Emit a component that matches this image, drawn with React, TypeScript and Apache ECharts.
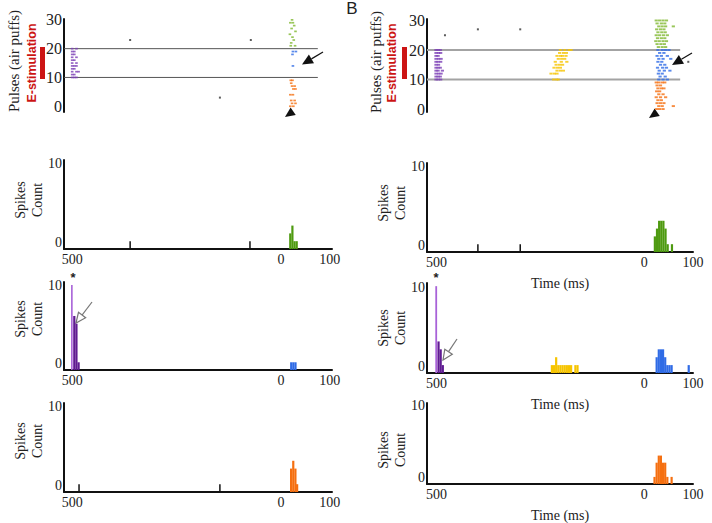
import React, { useEffect, useRef } from "react";
import * as echarts from "echarts";

const SERIF = "Liberation Serif";
const SANS = "Liberation Sans";

// Time axis limits in ms (column A on the left, column B on the right)
const timeRangeA = [-519, 105];
const timeRangeB = [-522, 100];
const timeTicks = [-500, 0, 100];
const pulseTicks = [0, 10, 20, 30];
const countTicks = [0, 10];
const stimBounds = [10, 20];

// ---- raster spikes: [time (ms), pulse #] ----
const rasterA_purple = [
  [-500, 10], [-495, 10], [-490, 10],
  [-500, 11], [-495, 11],
  [-500, 12], [-490, 12], [-485, 12],
  [-500, 13], [-495, 13],
  [-500, 14], [-495, 14], [-490, 14],
  [-500, 15], [-490, 15],
  [-500, 16], [-495, 16],
  [-500, 17], [-490, 17],
  [-500, 18], [-495, 18],
  [-500, 19], [-495, 19],
  [-500, 20], [-490, 20],
];
const rasterA_green = [
  [12, 30], [8, 29], [14, 29], [17, 28], [11, 27], [20, 26], [7, 25],
  [13, 24], [16, 23], [10, 22], [19, 21], [9, 21],
];
const rasterA_blue = [[14, 19], [21, 19], [13, 18], [14, 14]];
const rasterA_orange = [
  [9, 9], [13, 9], [10, 8], [12, 7], [18, 7], [15, 6], [20, 6], [8, 4],
  [14, 4], [10, 2], [18, 2], [12, 1], [20, 1], [8, 0], [15, 0],
];
const rasterA_black = [[-365, 23], [-84, 23], [-156, 3]];

const rasterB_purple = [
  [-501, 10], [-496, 10], [-490, 10],
  [-501, 11], [-496, 11], [-491, 11],
  [-501, 12], [-495, 12], [-489, 12],
  [-501, 13], [-496, 13], [-486, 13],
  [-501, 14], [-496, 14], [-491, 14],
  [-501, 15], [-495, 15],
  [-501, 16], [-496, 16], [-490, 16],
  [-501, 17], [-495, 17], [-489, 17],
  [-501, 18], [-496, 18],
  [-501, 19], [-495, 19], [-490, 19],
  [-501, 20], [-496, 20], [-491, 20],
];
const rasterB_yellow = [
  [-226, 10], [-219, 10], [-215, 10],
  [-232, 12], [-224, 12], [-218, 12],
  [-218, 13], [-210, 13], [-203, 13],
  [-225, 14], [-217, 14], [-210, 14],
  [-220, 15], [-212, 15], [-205, 15],
  [-222, 16], [-208, 16], [-195, 16],
  [-215, 17], [-207, 17], [-200, 17],
  [-218, 18], [-210, 18], [-205, 18], [-197, 18],
  [-212, 19], [-203, 19], [-196, 19],
  [-210, 20], [-200, 20], [-190, 20], [-185, 20],
];
const rasterB_green = [
  [14, 30], [22, 30], [30, 30], [38, 30],
  [16, 29], [26, 29], [34, 29],
  [20, 28], [28, 28], [36, 28], [54, 28],
  [15, 27], [24, 27], [32, 27],
  [18, 26], [27, 26], [35, 26],
  [14, 25], [22, 25], [31, 25], [40, 25],
  [17, 24], [26, 24], [34, 24],
  [13, 23], [21, 23], [30, 23], [38, 23],
  [16, 22], [25, 22], [33, 22],
  [19, 21], [28, 21], [36, 21],
];
const rasterB_blue = [
  [18, 20], [28, 20], [36, 20], [44, 20],
  [22, 19], [32, 19],
  [16, 18], [26, 18], [40, 18],
  [20, 17], [30, 17], [48, 17],
  [18, 16], [27, 16],
  [24, 15], [34, 15],
  [17, 14], [29, 14], [38, 14],
  [21, 13], [33, 13], [46, 13],
  [19, 12], [28, 12],
  [23, 11], [35, 11],
  [20, 10], [30, 10], [40, 10],
];
const rasterB_orange = [
  [14, 9], [20, 9], [28, 9], [34, 9],
  [16, 8], [24, 8],
  [18, 7], [26, 7], [32, 7],
  [15, 6], [22, 6],
  [20, 5], [30, 5],
  [14, 4], [24, 4], [36, 4],
  [18, 3], [26, 3],
  [16, 2], [24, 2], [32, 2],
  [20, 1], [28, 1], [54, 1],
  [15, 0], [22, 0], [30, 0],
];
const rasterB_black = [[-480, 25], [-403, 27], [-304, 27], [89, 16]];

// ---- histograms: [bin centre (ms), spike count] ----
const histA_green = [[7, 2], [12, 3], [17, 1], [22, 1]];
const histA_greenSpont = [[-365, 1], [-86, 1]];
const histA_purplePeak = [[-500, 11]];
const histA_purple = [[-495, 7], [-490, 6], [-485, 1]];
const histA_blue = [[10, 1], [15, 1], [20, 1]];
const histA_orange = [[9, 3], [14, 4], [19, 3], [23, 1]];
const histA_orangeSpont = [[-484, 1], [-156, 1]];

const histB_green = [[10, 2], [15, 3], [20, 4], [25, 4], [30, 4], [35, 3], [40, 1], [50, 1]];
const histB_greenSpont = [[-403, 1], [-304, 1]];
const histB_purplePeak = [[-500, 11]];
const histB_purple = [[-495, 4], [-490, 3], [-485, 1]];
const histB_yellow = [
  [-230, 1], [-225, 1], [-220, 2], [-215, 1], [-210, 1], [-205, 1],
  [-200, 1], [-195, 1], [-190, 1], [-185, 1], [-175, 1], [-170, 1],
];
const histB_blue = [[15, 2], [20, 3], [25, 3], [30, 3], [35, 2], [40, 1], [45, 1], [50, 1], [90, 1]];
const histB_orange = [[10, 1], [15, 3], [20, 4], [25, 4], [30, 3], [35, 3], [40, 1], [50, 1]];

const C = {
  purple: "#5f1b91",
  purpleLight: "#a862d8",
  purpleRaster: "#7a3db5",
  green: "#4e9a10",
  greenRaster: "#7fb830",
  blue: "#2f6be6",
  orange: "#f56f10",
  yellow: "#f6c400",
  red: "#cc1414",
  ink: "#111",
  text: "#222",
};

const COUNT_MAX = 11.4;

const grids = [
  { left: 64, top: 19, width: 268, height: 93 },
  { left: 427, top: 19, width: 266, height: 93 },
  { left: 64, top: 160, width: 268, height: 89 },
  { left: 427, top: 163, width: 266, height: 89 },
  { left: 64, top: 282, width: 268, height: 88 },
  { left: 427, top: 283, width: 266, height: 90 },
  { left: 64, top: 403, width: 268, height: 89 },
  { left: 427, top: 403, width: 266, height: 90 },
];

function rasterX(gi: number, range: number[]) {
  return { type: "value", gridIndex: gi, min: range[0], max: range[1], show: false };
}

function histX(gi: number, range: number[], named: boolean) {
  return {
    type: "value",
    gridIndex: gi,
    min: range[0],
    max: range[1],
    axisLine: { show: true, onZero: false, lineStyle: { color: C.ink, width: 2 } },
    axisTick: { show: false },
    splitLine: { show: false },
    axisLabel: {
      customValues: timeTicks,
      formatter: (v: number) => (v === 0 ? "{z|0}" : "{n|" + Math.abs(v) + "}"),
      fontFamily: SERIF,
      fontSize: 14,
      color: C.text,
      margin: 3,
      rich: {
        z: { fontFamily: SERIF, fontSize: 14, color: C.text, padding: [0, 12, 0, 0] },
        n: { fontFamily: SERIF, fontSize: 14, color: C.text },
      },
    },
    name: named ? "Time (ms)" : "",
    nameLocation: "middle",
    nameGap: 24,
    nameTextStyle: { fontFamily: SERIF, fontSize: 14, color: C.text },
  };
}

function rasterY(gi: number, min: number, max: number) {
  return {
    type: "value",
    gridIndex: gi,
    min,
    max,
    axisLine: { show: true, onZero: false, lineStyle: { color: C.ink, width: 2 } },
    axisTick: { show: false },
    splitLine: { show: false },
    axisLabel: {
      customValues: pulseTicks,
      formatter: (v: number) => "{n|" + v + "}",
      rich: { n: { fontFamily: SERIF, fontSize: 16, color: C.text } },
      fontFamily: SERIF,
      fontSize: 16,
      color: C.text,
      margin: 2,
    },
  };
}

function histY(gi: number) {
  return {
    type: "value",
    gridIndex: gi,
    min: 0,
    max: COUNT_MAX,
    axisLine: { show: true, onZero: false, lineStyle: { color: C.ink, width: 2 } },
    axisTick: { show: false },
    splitLine: { show: false },
    axisLabel: {
      customValues: countTicks,
      formatter: (v: number) => "{n|" + v + "}",
      rich: { n: { fontFamily: SERIF, fontSize: 14, color: C.text } },
      verticalAlign: "bottom",
      fontFamily: SERIF,
      fontSize: 14,
      color: C.text,
      margin: 2,
    },
  };
}

function raster(gi: number, data: number[][], color: string, size: number[] = [2.6, 1.7]) {
  return {
    type: "scatter",
    xAxisIndex: gi,
    yAxisIndex: gi,
    data,
    symbol: "rect",
    symbolSize: size,
    itemStyle: { color },
    silent: true,
    z: 3,
  };
}

function hist(gi: number, data: number[][], color: string, width = 2.2) {
  return {
    type: "bar",
    xAxisIndex: gi,
    yAxisIndex: gi,
    data,
    barWidth: width,
    barGap: "-100%",
    itemStyle: { color },
    silent: true,
  };
}

function guide(gi: number, x0: number, x1: number, y: number, color: string, width: number) {
  return {
    type: "line",
    xAxisIndex: gi,
    yAxisIndex: gi,
    data: [[x0, y], [x1, y]],
    symbol: "none",
    lineStyle: { color, width },
    silent: true,
    z: 1,
  };
}

function headPoints(tx: number, ty: number, fx: number, fy: number, len: number, half: number) {
  const dx = tx - fx;
  const dy = ty - fy;
  const d = Math.hypot(dx, dy);
  const ux = dx / d;
  const uy = dy / d;
  const bx = tx - ux * len;
  const by = ty - uy * len;
  return {
    points: [[tx, ty], [bx - uy * half, by + ux * half], [bx + uy * half, by - ux * half]],
    base: [bx, by],
  };
}

function arrow(fx: number, fy: number, tx: number, ty: number, color: string, hollow: boolean, len: number, half: number) {
  const h = headPoints(tx, ty, fx, fy, len, half);
  return [
    { type: "line", shape: { x1: fx, y1: fy, x2: h.base[0], y2: h.base[1] }, style: { stroke: color, lineWidth: 1.2 }, silent: true },
    {
      type: "polygon",
      shape: { points: h.points },
      style: hollow ? { fill: "#fff", stroke: color, lineWidth: 1.2 } : { fill: color },
      silent: true,
    },
  ];
}

function pointer(fx: number, fy: number, tx: number, ty: number) {
  const h = headPoints(tx, ty, fx, fy, 10, 4.5);
  return { type: "polygon", shape: { points: h.points }, style: { fill: "#111" }, silent: true };
}

function vtext(x: number, y: number, text: string, style: Record<string, unknown>) {
  return {
    type: "text",
    x,
    y,
    rotation: Math.PI / 2,
    silent: true,
    style: { text, align: "center", verticalAlign: "middle", ...style },
  };
}

function htext(x: number, y: number, text: string, style: Record<string, unknown>) {
  return {
    type: "text",
    x,
    y,
    silent: true,
    style: { text, align: "center", verticalAlign: "middle", ...style },
  };
}

function buildOption() {
  const spikesStyle = { fontFamily: SERIF, fontSize: 14, fill: C.text, lineHeight: 17 };
  const pulsesStyle = { fontFamily: SERIF, fontSize: 15, fill: C.text };
  const stimStyle = { fontFamily: SANS, fontSize: 12.5, fontWeight: "bold", fill: C.red };
  const denseDash = [3.2, 1.9];

  const graphic = [
    htext(352, 8, "B", { fontFamily: SANS, fontSize: 17, fill: C.text }),
    vtext(14, 61, "Pulses (air puffs)", pulsesStyle),
    vtext(32, 63, "E-stimulation", stimStyle),
    { type: "rect", shape: { x: 40, y: 47, width: 5, height: 32 }, style: { fill: C.red }, silent: true },
    vtext(376, 62, "Pulses (air puffs)", pulsesStyle),
    vtext(392, 63, "E-stimulation", stimStyle),
    { type: "rect", shape: { x: 402, y: 47, width: 5, height: 32 }, style: { fill: C.red }, silent: true },
    vtext(28.5, 200, "Spikes\nCount", spikesStyle),
    vtext(28.5, 319, "Spikes\nCount", spikesStyle),
    vtext(28.5, 441, "Spikes\nCount", spikesStyle),
    vtext(391.5, 203, "Spikes\nCount", spikesStyle),
    vtext(391.5, 328, "Spikes\nCount", spikesStyle),
    vtext(391.5, 450, "Spikes\nCount", spikesStyle),
    htext(73, 277, "*", { fontFamily: SANS, fontSize: 13, fontWeight: "bold", fill: C.text }),
    htext(436, 277, "*", { fontFamily: SANS, fontSize: 13, fontWeight: "bold", fill: C.text }),
    ...arrow(323, 52, 302, 64.5, "#111", false, 11, 5),
    ...arrow(692, 53, 672, 65, "#111", false, 11, 5),
    pointer(295, 110, 285, 117),
    pointer(659, 111, 649, 118),
    ...arrow(92, 302, 76, 323, "#777", true, 10, 4.5),
    ...arrow(457, 339, 443, 360, "#777", true, 10, 4.5),
  ];

  const series = [
    // A raster
    guide(0, timeRangeA[0], 72, stimBounds[1], "#555", 1),
    guide(0, timeRangeA[0], 72, stimBounds[0], "#555", 1),
    raster(0, rasterA_purple, C.purpleRaster),
    raster(0, rasterA_green, C.greenRaster),
    raster(0, rasterA_blue, C.blue),
    raster(0, rasterA_orange, C.orange),
    raster(0, rasterA_black, "#333", [2, 2]),
    // B raster
    guide(1, timeRangeB[0], 70, stimBounds[1], "#a3a3a3", 2),
    guide(1, timeRangeB[0], 70, stimBounds[0], "#a3a3a3", 2),
    raster(1, rasterB_purple, C.purpleRaster, denseDash),
    raster(1, rasterB_yellow, C.yellow, denseDash),
    raster(1, rasterB_green, C.greenRaster, denseDash),
    raster(1, rasterB_blue, C.blue, denseDash),
    raster(1, rasterB_orange, C.orange, denseDash),
    raster(1, rasterB_black, "#333", [2, 2]),
    // pulses above the stimulation band
    hist(2, histA_green, C.green),
    hist(2, histA_greenSpont, C.ink, 1.5),
    hist(3, histB_green, C.green),
    hist(3, histB_greenSpont, C.ink, 1.5),
    // pulses paired with E-stimulation
    hist(4, histA_purplePeak, C.purpleLight, 1.6),
    hist(4, histA_purple, C.purple),
    hist(4, histA_blue, C.blue),
    hist(5, histB_purplePeak, C.purpleLight, 1.8),
    hist(5, histB_purple, C.purple),
    hist(5, histB_yellow, C.yellow),
    hist(5, histB_blue, C.blue),
    // pulses below the stimulation band
    hist(6, histA_orange, C.orange),
    hist(6, histA_orangeSpont, C.ink, 1.5),
    hist(7, histB_orange, C.orange),
  ];

  return {
    animation: false,
    backgroundColor: "#fff",
    grid: grids,
    xAxis: [
      rasterX(0, timeRangeA),
      rasterX(1, timeRangeB),
      histX(2, timeRangeA, false),
      histX(3, timeRangeB, true),
      histX(4, timeRangeA, false),
      histX(5, timeRangeB, true),
      histX(6, timeRangeA, false),
      histX(7, timeRangeB, true),
    ],
    yAxis: [
      rasterY(0, -2, 30.3),
      rasterY(1, -1, 30.5),
      histY(2),
      histY(3),
      histY(4),
      histY(5),
      histY(6),
      histY(7),
    ],
    series,
    graphic,
  };
}

export default function App() {
  const ref = useRef<HTMLDivElement>(null);
  useEffect(() => {
    if (!ref.current) return;
    const chart = echarts.init(ref.current, null, { renderer: "svg" });
    chart.setOption(buildOption() as any);
    return () => chart.dispose();
  }, []);
  return <div ref={ref} style={{ position: "fixed", left: 0, top: 0, width: 712, height: 523 }} />;
}
